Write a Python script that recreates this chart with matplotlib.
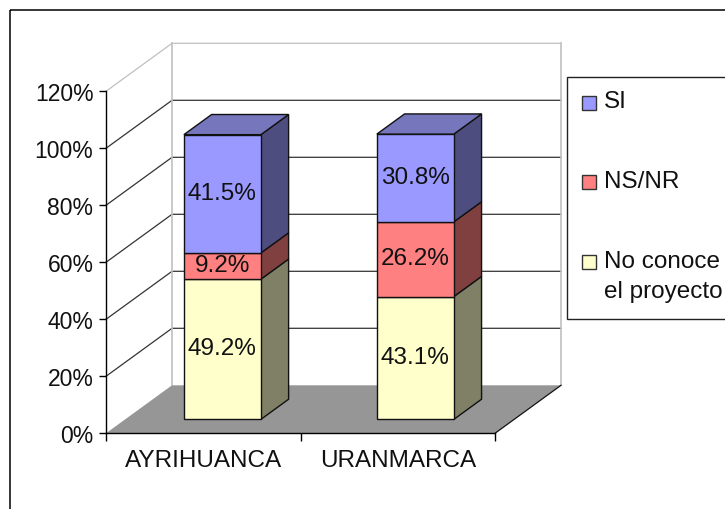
import matplotlib

matplotlib.use("Agg")
import matplotlib.pyplot as plt
from matplotlib.patches import Polygon, Rectangle

plt.rcParams["font.family"] = ["Liberation Sans", "DejaVu Sans"]

categories = ["AYRIHUANCA", "URANMARCA"]
series_names = ["No conoce\nel proyecto", "NS/NR", "SI"]
no_conoce = [49.2, 43.1]
ns_nr = [9.2, 26.2]
si = [41.5, 30.8]
y_ticks = [0, 20, 40, 60, 80, 100, 120]

W, H = 725, 510
FONT = 17.5
TICK_FONT = 16.5
INK = "#111111"
# caras: frente, lateral, tapa
colors = [
    ("#ffffcc", "#808066", "#a0a080"),
    ("#ff8080", "#804040", "#a05050"),
    ("#9999ff", "#4d4d80", "#7676bc"),
]

# proyeccion oblicua: d=0 plano frontal, d=1 pared del fondo
DX = 66 / 194.5
DY = 48 / 2.85


def pr(x, y, d):
    return (x + d * DX, y + d * DY)


fig = plt.figure(figsize=(W / 100, H / 100), dpi=100, facecolor="white")

# capa en pixeles para marco y leyenda
bg = fig.add_axes([0, 0, 1, 1])
bg.set_xlim(0, W)
bg.set_ylim(H, 0)
bg.axis("off")
bg.add_patch(Rectangle((10.5, 10.5), W, H, fill=False, edgecolor="black", linewidth=1.1))

ax = fig.add_axes([106 / W, 1 - 434.3 / H, 389 / W, 342 / H])
ax.patch.set_visible(False)
ax.set_xlim(0, 2)
ax.set_ylim(0, 120)

# pared del fondo y lineas de division
wall = "#c0c0c0"
for v in y_ticks:
    color = wall if v == 120 else "#333333"
    x0, y0 = pr(0, v, 0)
    x1, y1 = pr(0, v, 1)
    x2, y2 = pr(2, v, 1)
    if v > 0:
        ax.plot([x0, x1, x2], [y0, y1, y2], color=color, lw=0.9, clip_on=False, zorder=1)
xb, yb = pr(0, 0, 1)
xt, yt = pr(0, 120, 1)
ax.plot([xb, xt], [yb, yt], color=wall, lw=1.2, clip_on=False, zorder=1.5)
xb, yb = pr(2, 0, 1)
xt, yt = pr(2, 120, 1)
ax.plot([xb, xt], [yb, yt], color=wall, lw=1.2, clip_on=False, zorder=1.5)

# piso
floor = [pr(0, 0, 0), pr(2, 0, 0), pr(2, 0, 1), pr(0, 0, 1)]
ax.add_patch(Polygon(floor, closed=True, facecolor="#969696", edgecolor="none", clip_on=False, zorder=2))
ax.plot([2, pr(2, 0, 1)[0]], [0, pr(2, 0, 1)[1]], color="#111111", lw=0.9, clip_on=False, zorder=2.5)

# barras apiladas
half = 77 / 194.5 / 2
d0, d1 = 0.29, 0.71
for i, name in enumerate(categories):
    cx = 0.5 + i * 0.992
    base = 0
    stack = [no_conoce[i], ns_nr[i], si[i]]
    for j, val in enumerate(stack):
        top = base + val
        front = [pr(cx - half, base, d0), pr(cx + half, base, d0), pr(cx + half, top, d0), pr(cx - half, top, d0)]
        side = [pr(cx + half, base, d0), pr(cx + half, base, d1), pr(cx + half, top, d1), pr(cx + half, top, d0)]
        ax.add_patch(Polygon(side, closed=True, facecolor=colors[j][1], edgecolor=INK, lw=1.0, clip_on=False, zorder=3 + j * 0.1))
        ax.add_patch(Polygon(front, closed=True, facecolor=colors[j][0], edgecolor=INK, lw=1.0, clip_on=False, zorder=3 + j * 0.1))
        if j == 2:
            lid = [pr(cx - half, top, d0), pr(cx + half, top, d0), pr(cx + half, top, d1), pr(cx - half, top, d1)]
            ax.add_patch(Polygon(lid, closed=True, facecolor=colors[j][2], edgecolor=INK, lw=1.0, clip_on=False, zorder=3.3))
        lx, ly = pr(cx, base + val / 2, d0)
        ax.text(lx, ly + 0.3, f"{val:.1f}%", ha="center", va="center", fontsize=FONT, color=INK, zorder=4)
        base = top

# ejes
for s in ("top", "right"):
    ax.spines[s].set_visible(False)
for s in ("left", "bottom"):
    ax.spines[s].set_linewidth(1.0)
    ax.spines[s].set_color("black")
    ax.spines[s].set_zorder(2.6)
ax.set_yticks(y_ticks)
ax.set_yticklabels([f"{v}%" for v in y_ticks], fontsize=TICK_FONT, color=INK)
ax.set_xticks([0, 1, 2])
ax.set_xticklabels([])
ax.set_xticks([0.5, 1.5], minor=True)
ax.set_xticklabels(categories, minor=True, fontsize=FONT, color=INK)
ax.tick_params(axis="y", length=5, width=1.0, pad=4)
ax.tick_params(axis="x", which="major", length=6, width=1.0)
ax.tick_params(axis="x", which="minor", length=0, pad=11)

# leyenda
bg.add_patch(Rectangle((567.5, 77.5), 200, 242.5, facecolor="white", edgecolor="#222222", linewidth=1.0, clip_on=True))
legend_rows = [(2, 96.5, 108), (1, 175.5, 188), (0, 256, 268)]
for j, sw_y, base_y in legend_rows:
    bg.add_patch(Rectangle((582, sw_y), 14.5, 14, facecolor=colors[j][0], edgecolor="#333333", linewidth=1.0))
    lines = series_names[j].split("\n")
    for k, line in enumerate(lines):
        bg.text(604, base_y + k * 30, line, ha="left", va="baseline", fontsize=FONT, color=INK)

fig.savefig("out.png", dpi=100, facecolor="white")
plt.close(fig)
